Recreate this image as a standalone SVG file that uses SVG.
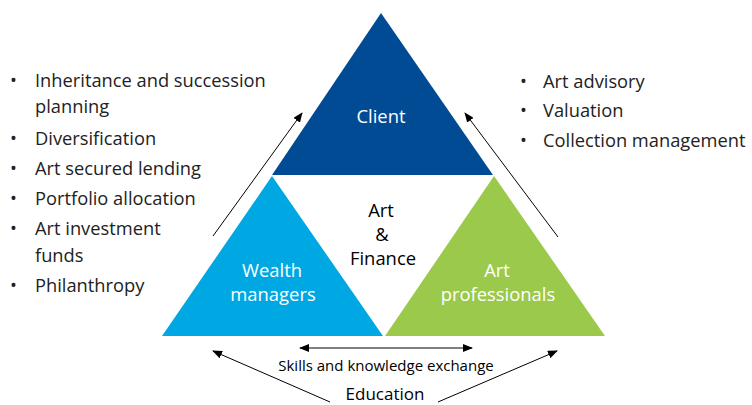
<svg xmlns="http://www.w3.org/2000/svg" width="752" height="405" viewBox="0 0 752 405">
<style>
.t{font-family:"Open Sans","Noto Sans","Liberation Sans",sans-serif;font-size:18.3px;fill:#222}
.w{font-family:"Open Sans","Noto Sans","Liberation Sans",sans-serif;font-size:18.4px;fill:#fff;text-anchor:middle}
.c{font-family:"Open Sans","Noto Sans","Liberation Sans",sans-serif;font-size:18.4px;fill:#000;text-anchor:middle}
.s{font-family:"Open Sans","Noto Sans","Liberation Sans",sans-serif;font-size:15px;fill:#000;text-anchor:middle}
.e{font-family:"Open Sans","Noto Sans","Liberation Sans",sans-serif;font-size:17px;fill:#000;text-anchor:middle}
.ln{stroke:#000;stroke-width:1;fill:none}
</style>
<defs>
<marker id="ah" markerWidth="10" markerHeight="8" refX="9" refY="4" orient="auto" markerUnits="userSpaceOnUse">
<path d="M0,0 L10,4 L0,8 Z" fill="#000"/>
</marker>
<marker id="as" markerWidth="10" markerHeight="8" refX="1" refY="4" orient="auto" markerUnits="userSpaceOnUse">
<path d="M10,0 L0,4 L10,8 Z" fill="#000"/>
</marker>
</defs>
<rect width="752" height="405" fill="#fff"/>
<g id="client">
<polygon points="381,13 272,175 493,175" fill="#004b93"/>
<text class="w" x="381" y="123">Client</text>
</g>
<g id="wealth-managers">
<polygon points="272,176 162,336 383,336" fill="#00a8e3"/>
<text class="w" x="272" y="277">Wealth</text>
<text class="w" x="273" y="301">managers</text>
</g>
<g id="art-professionals">
<polygon points="494,176 385,336 605,336" fill="#9bc94b"/>
<text class="w" x="497" y="277">Art</text>
<text class="w" x="498" y="301">professionals</text>
</g>
<g id="art-finance">
<text class="c" x="381" y="217">Art</text>
<text class="c" x="382" y="241">&amp;</text>
<text class="c" x="383" y="265">Finance</text>
</g>
<g id="left-list">
<text class="t" x="10" y="87">•</text><text class="t" x="35" y="87">Inheritance and succession</text>
<text class="t" x="35" y="113">planning</text>
<text class="t" x="10" y="145">•</text><text class="t" x="35" y="145">Diversification</text>
<text class="t" x="10" y="175">•</text><text class="t" x="35" y="175">Art secured lending</text>
<text class="t" x="10" y="205">•</text><text class="t" x="35" y="205">Portfolio allocation</text>
<text class="t" x="10" y="235">•</text><text class="t" x="35" y="235">Art investment</text>
<text class="t" x="35" y="262">funds</text>
<text class="t" x="10" y="292">•</text><text class="t" x="35" y="292">Philanthropy</text>
</g>
<g id="right-list">
<text class="t" x="520" y="88">•</text><text class="t" x="543" y="88">Art advisory</text>
<text class="t" x="520" y="117">•</text><text class="t" x="543" y="117">Valuation</text>
<text class="t" x="520" y="147">•</text><text class="t" x="543" y="147">Collection management</text>
</g>
<g id="connectors">
<line class="ln" x1="213" y1="236" x2="302" y2="113" marker-end="url(#ah)"/>
<line class="ln" x1="558" y1="237" x2="465" y2="113" marker-end="url(#ah)"/>
<line class="ln" x1="300" y1="348" x2="472" y2="348" marker-start="url(#as)" marker-end="url(#ah)"/>
<line class="ln" x1="330" y1="402" x2="213" y2="351" marker-end="url(#ah)"/>
<line class="ln" x1="438" y1="402" x2="557" y2="351" marker-end="url(#ah)"/>
</g>
<g id="labels">
<text class="s" x="386" y="371">Skills and knowledge exchange</text>
<text class="e" x="385" y="400">Education</text>
</g>
</svg>
